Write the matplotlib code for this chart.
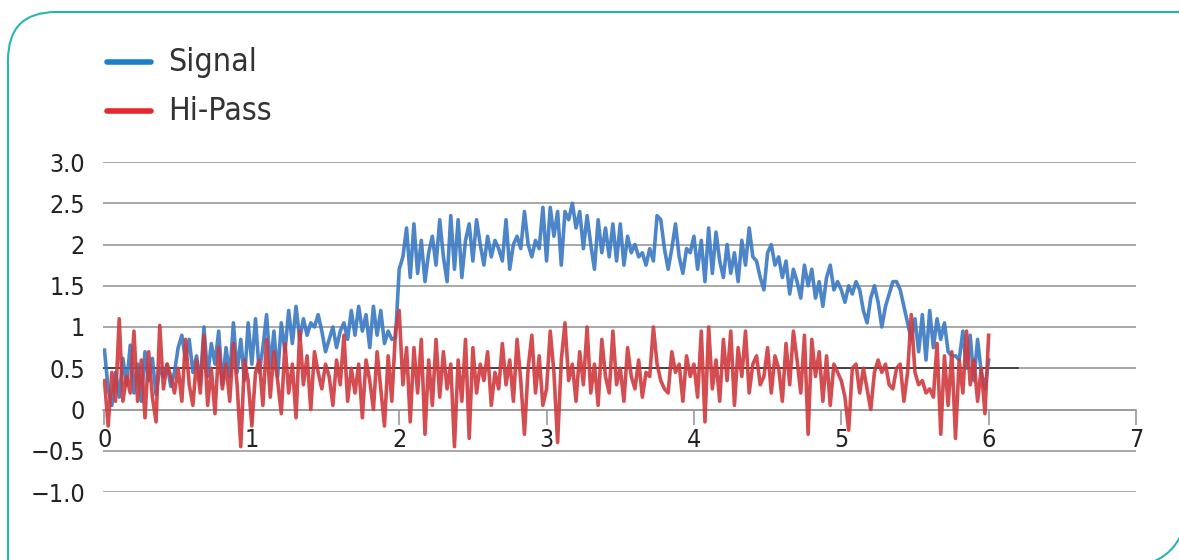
import os
import numpy as np
import matplotlib
matplotlib.use("Agg")
import matplotlib.pyplot as plt
from matplotlib import font_manager as fm
from matplotlib.lines import Line2D
from matplotlib.patches import Arc, PathPatch
from matplotlib.path import Path

plt.rcParams['font.family'] = ['DejaVu Sans']

# time axis: 0 .. 6 in steps of 0.025
t = np.arange(241) * 0.025

signal = [
    0.72, 0.25, 0.05, 0.45, 0.15, 0.62, 0.30, 0.78, 0.20, 0.55,
    0.10, 0.70, 0.35, 0.62, 0.18, 0.50, 0.40, 0.55, 0.28, 0.45,
    0.75, 0.90, 0.60, 0.85, 0.45, 0.65, 0.30, 1.00, 0.40, 0.80,
    0.55, 0.95, 0.30, 0.75, 0.40, 1.05, 0.45, 0.85, 0.35, 1.05,
    0.55, 1.10, 0.45, 0.75, 1.15, 0.50, 0.95, 0.40, 1.05, 0.70,
    1.20, 0.80, 1.25, 0.85, 1.10, 0.90, 1.05, 1.00, 1.15, 0.95,
    0.70, 0.85, 1.00, 0.75, 0.95, 1.05, 0.85, 1.20, 0.90, 1.25,
    0.95, 1.15, 0.75, 1.25, 0.90, 1.20, 0.80, 0.95, 0.85, 0.87,
    1.70, 1.85, 2.20, 1.60, 2.25, 1.65, 2.05, 1.55, 1.90, 2.10,
    1.75, 2.30, 1.85, 1.55, 2.35, 1.70, 2.30, 1.60, 2.05, 2.25,
    1.80, 2.30, 2.00, 1.75, 2.10, 1.85, 2.05, 1.95, 1.80, 2.30,
    1.70, 2.00, 2.10, 1.95, 2.40, 2.00, 1.85, 2.05, 1.95, 2.45,
    1.80, 2.45, 2.10, 2.40, 1.75, 2.40, 2.30, 2.50, 2.20, 2.40,
    1.95, 2.35, 2.00, 1.70, 2.30, 1.90, 2.20, 1.85, 2.25, 1.80,
    2.25, 1.75, 2.10, 1.90, 2.00, 1.85, 1.90, 1.75, 1.95, 1.80,
    2.35, 2.30, 1.95, 1.70, 1.95, 2.25, 1.85, 1.65, 1.95, 1.90,
    2.10, 1.70, 2.05, 1.55, 2.20, 1.65, 2.15, 1.80, 1.60, 2.00,
    1.65, 1.90, 1.55, 2.05, 1.75, 2.20, 1.85, 1.80, 1.60, 1.45,
    1.90, 2.00, 1.75, 1.85, 1.60, 1.80, 1.40, 1.70, 1.55, 1.35,
    1.75, 1.50, 1.70, 1.35, 1.55, 1.25, 1.60, 1.75, 1.45, 1.55,
    1.45, 1.30, 1.50, 1.40, 1.55, 1.45, 1.20, 1.05, 1.35, 1.50,
    1.30, 1.00, 1.25, 1.40, 1.55, 1.55, 1.45, 1.25, 1.05, 0.85,
    1.10, 0.70, 1.15, 0.60, 1.20, 0.75, 1.10, 0.85, 1.05, 0.70,
    0.65, 0.65, 0.60, 0.95, 0.50, 0.90, 0.35, 0.85, 0.45, 0.25,
    0.60,
]

hipass = [
    0.35, -0.20, 0.45, 0.10, 1.10, 0.10, 0.40, 0.20, 0.95, 0.10,
    0.60, -0.10, 0.70, 0.15, -0.15, 1.02, 0.25, 0.55, 0.40, 0.20,
    0.50, 0.10, 0.85, 0.30, 0.05, 0.60, 0.20, 0.90, 0.05, 0.50,
    -0.05, 0.75, 0.25, 0.55, 0.10, 0.80, 0.30, -0.45, 0.60, 0.35,
    -0.20, 0.45, 0.60, 0.05, 0.85, 0.15, 0.70, 0.35, -0.05, 0.80,
    0.20, 0.55, -0.10, 0.95, 0.30, 0.65, 0.00, 0.70, 0.45, 0.25,
    0.55, 0.40, 0.05, 0.60, 0.30, 0.90, 0.10, 0.50, 0.20, 0.55,
    -0.10, 0.60, 0.35, 0.00, 0.70, 0.25, -0.20, 0.65, 0.10, 0.95,
    1.20, 0.30, 0.75, -0.15, 0.75, 0.20, 0.85, -0.30, 0.60, 0.05,
    0.85, 0.15, 0.70, 0.25, 0.55, -0.45, 0.60, 0.10, 0.85, -0.35,
    0.75, 0.20, 0.55, 0.35, 0.70, 0.05, 0.45, 0.25, 0.80, 0.30,
    0.60, 0.10, 0.85, 0.35, -0.30, 0.50, 0.90, 0.20, 0.65, 0.05,
    0.25, 0.95, 0.45, -0.40, 0.60, 1.05, 0.35, 0.55, 0.10, 0.70,
    0.30, 1.00, 0.20, 0.55, 0.05, 0.85, 0.40, 0.20, 0.95, 0.30,
    0.50, 0.10, 0.75, 0.40, 0.25, 0.60, 0.15, 0.45, 0.40, 1.00,
    0.55, 0.35, 0.25, 0.20, 0.70, 0.45, 0.55, 0.10, 0.65, 0.40,
    0.55, 0.15, 0.95, -0.15, 1.00, 0.25, 0.60, 0.10, 0.85, 0.35,
    0.95, 0.05, 0.75, 0.40, 0.95, 0.20, 0.55, 0.65, 0.30, 0.40,
    0.75, 0.20, 0.65, 0.50, 0.10, 0.80, 0.30, 0.95, 0.60, 0.20,
    0.90, -0.30, 0.85, 0.40, 0.70, 0.10, 0.65, 0.05, 0.55, 0.45,
    0.35, 0.15, -0.25, 0.50, 0.55, 0.20, 0.50, 0.25, 0.00, 0.45,
    0.60, 0.45, 0.55, 0.30, 0.25, 0.50, 0.55, 0.10, 0.45, 1.15,
    0.45, 0.30, 0.35, 0.20, 0.25, 0.15, 0.80, -0.30, 0.65, 0.05,
    0.70, -0.35, 0.60, 0.20, 0.95, 0.30, 0.60, 0.10, 0.50, -0.05,
    0.90,
]

yticks = [-1.0, -0.5, 0, 0.5, 1, 1.5, 2, 2.5, 3.0]
ylabels = ["−1.0", "−0.5", "0", "0.5", "1", "1.5", "2", "2.5", "3.0"]
xticks = [0, 1, 2, 3, 4, 5, 6, 7]

# look for a narrow / condensed face, the original uses a condensed font
narrow = None
for key in ["LiberationSansNarrow-Regular", "DejaVuSansCondensed.", "RobotoCondensed-Regular",
            "OpenSans_Condensed-Regular", "OpenSansCondensed", "NotoSans-Condensed", "Narrow", "Condensed"]:
    for f in fm.fontManager.ttflist:
        b = os.path.basename(f.fname)
        if key in b and "Bold" not in b and "Italic" not in b and "Oblique" not in b:
            narrow = f.fname
            break
    if narrow:
        break


def fp(size):
    if narrow:
        return fm.FontProperties(fname=narrow, size=size)
    return fm.FontProperties(family="DejaVu Sans", size=size * 0.85)


fig = plt.figure(figsize=(11.79, 5.6), dpi=100)
ax = fig.add_axes([103 / 1179, 1 - 492 / 560, (1136 - 103) / 1179, (492 - 162) / 560])

for y in yticks:
    ax.axhline(y, color="#9a9a9a", lw=1.2, zorder=0)
ax.axhline(0.5, xmax=6.2 / 7, color="#333333", lw=1.2, zorder=0)

ax.plot(t, signal, color="#3a78c4", lw=2.6, alpha=0.9, zorder=2)
ax.plot(t, hipass, color="#cf3a3e", lw=2.6, alpha=0.9, zorder=3)

ax.set_xlim(-0.01, 7.0)
ax.set_ylim(-1.0, 3.0)
ax.set_yticks(yticks)
ax.set_yticklabels(ylabels)
ax.set_xticks(xticks)
for s in ["top", "right", "left"]:
    ax.spines[s].set_visible(False)
ax.spines["bottom"].set_position(("data", 0))
ax.spines["bottom"].set_color("#9a9a9a")
ax.spines["bottom"].set_linewidth(1.2)
ax.tick_params(axis="y", length=0, pad=13, labelcolor="#222222")
ax.tick_params(axis="x", direction="out", length=11, width=1.2, color="#9a9a9a",
               pad=2, labelcolor="#222222")
for lbl in ax.get_yticklabels() + ax.get_xticklabels():
    lbl.set_fontproperties(fp(18))
ax.patch.set_visible(False)

# legend
for ypix, col, lab in [(62, "#1a7fc8", "Signal"), (111, "#e8262b", "Hi-Pass")]:
    yf = 1 - ypix / 560
    fig.add_artist(Line2D([107 / 1179, 151 / 1179], [yf, yf], color=col, lw=4,
                          solid_capstyle="round", transform=fig.transFigure))
    fig.text(168 / 1179, yf, lab, fontproperties=fp(23), color="#333333", va="center", ha="left")

# frame: rounded top-left corner, open to the right and bottom
r = 48
x0, ytop = 8, 560 - 12
verts = [(x0, -10), (x0, ytop - r), (x0, ytop), (x0 + r, ytop), (1300, ytop)]
codes = [Path.MOVETO, Path.LINETO, Path.CURVE3, Path.CURVE3, Path.LINETO]
fig.add_artist(PathPatch(Path(verts, codes), transform=None, fill=False,
                         edgecolor="#2bb5b0", lw=1.5))
fig.add_artist(Arc((1135, 45), 100, 100, theta1=270, theta2=360, transform=None,
                   edgecolor="#2bb5b0", lw=1.5))

fig.savefig("out.png", dpi=100)
